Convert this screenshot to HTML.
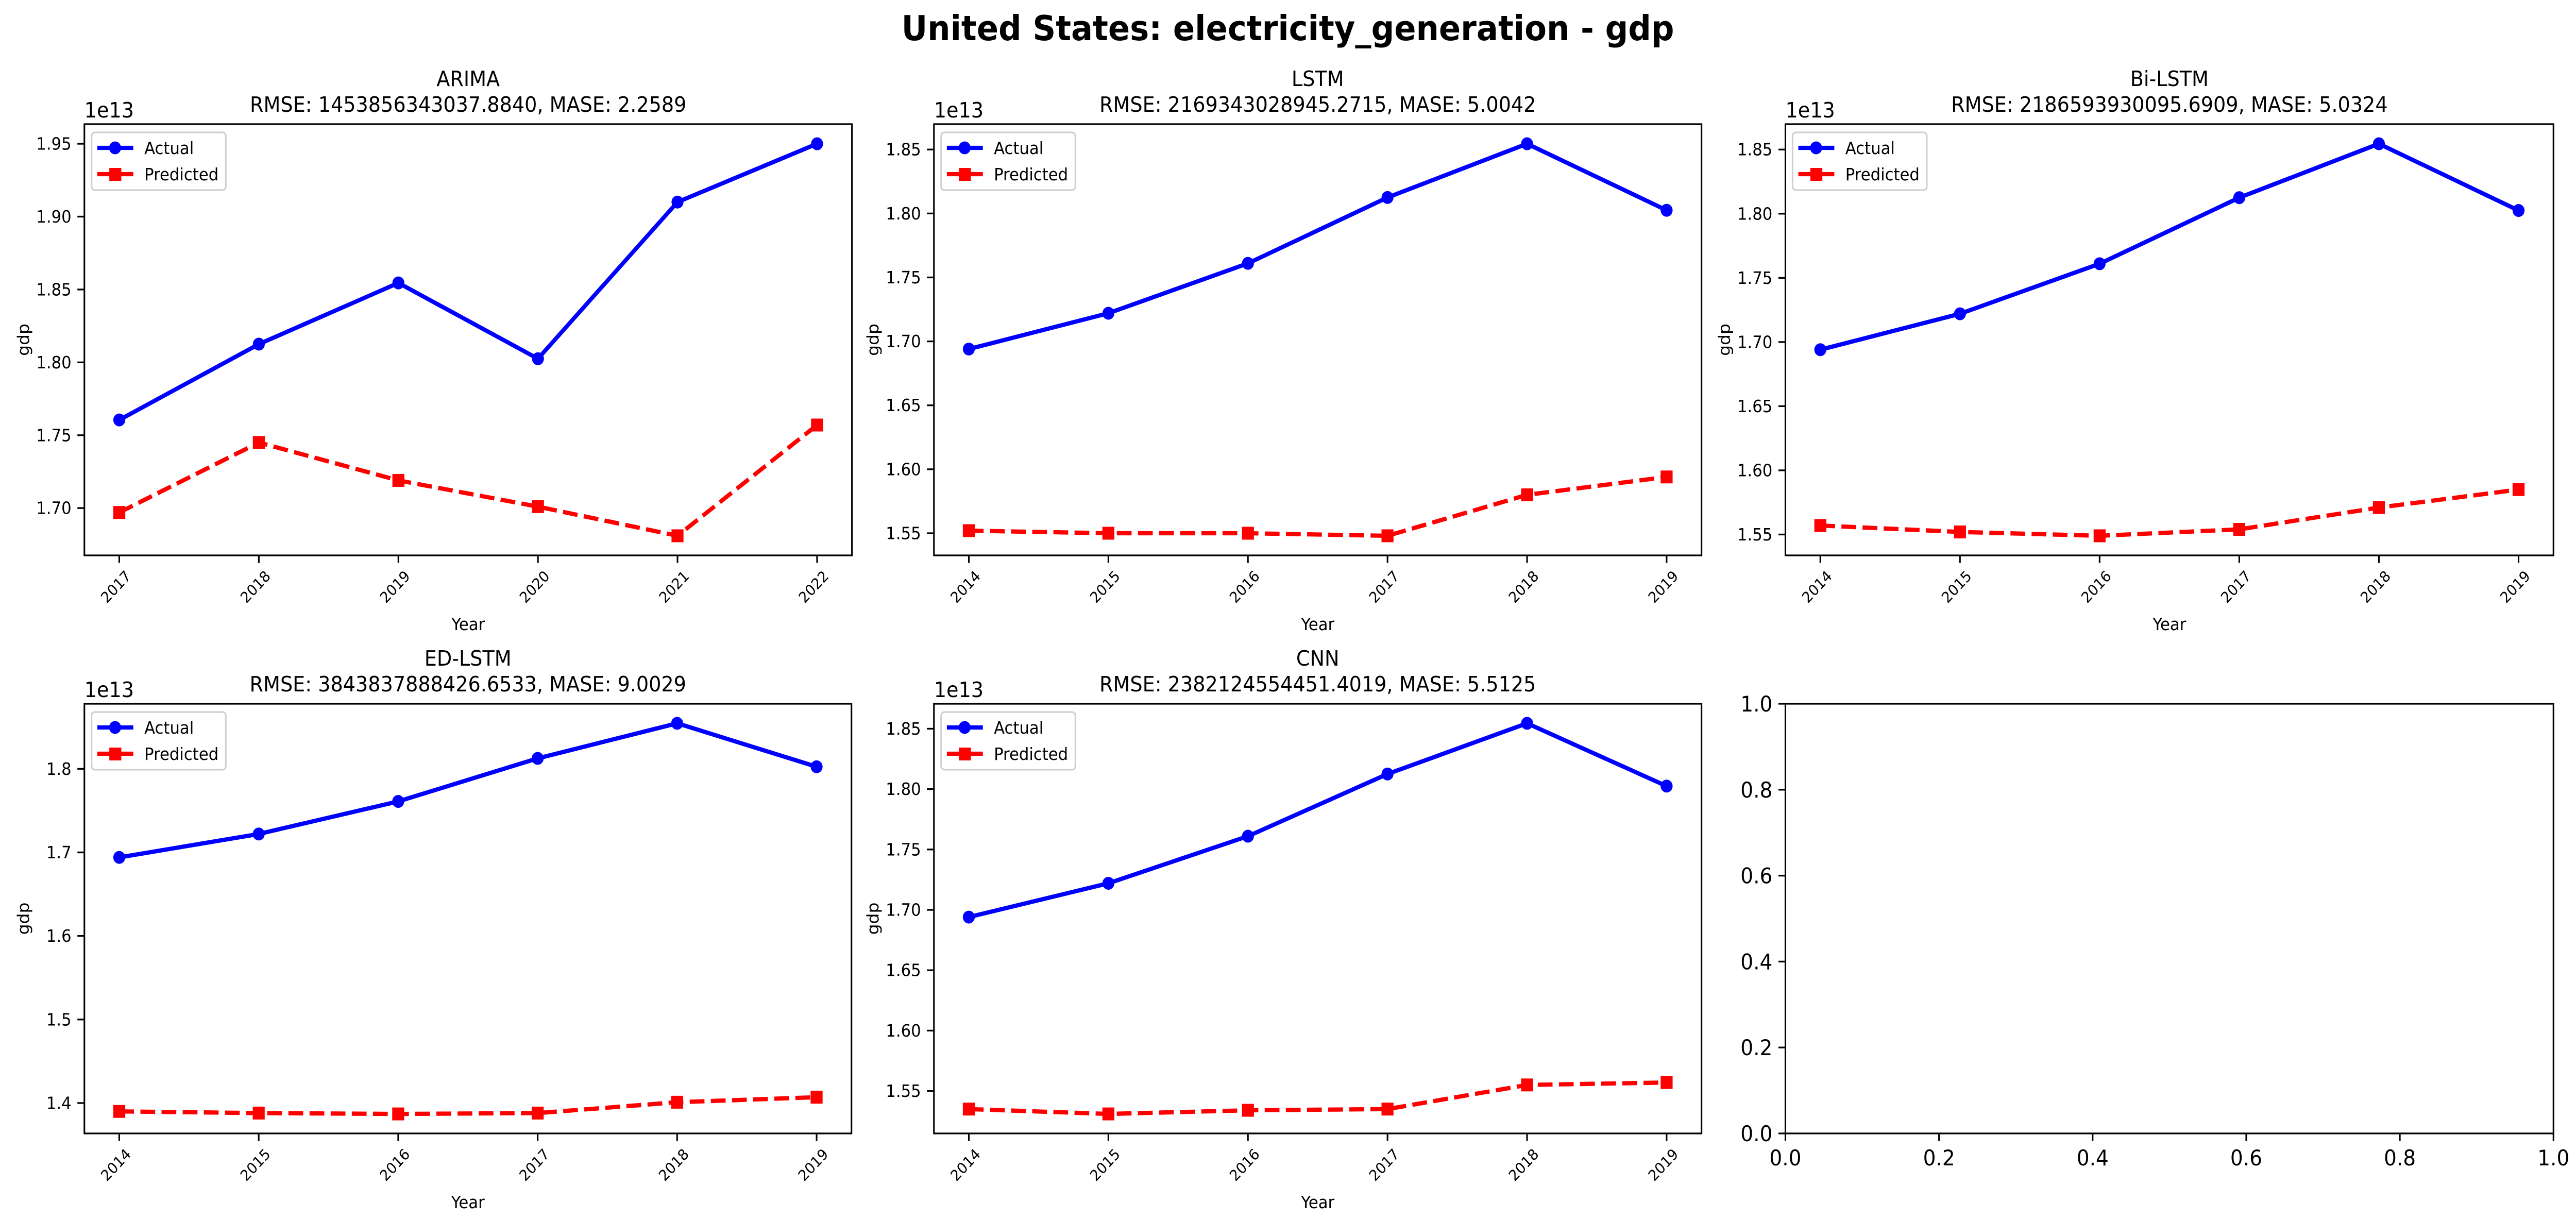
<!DOCTYPE html>
<html><head><meta charset="utf-8"><style>
html,body{margin:0;padding:0;background:#fff;width:100vw;height:100vh;overflow:hidden}
svg{display:block;width:100vw;height:100vh;font-family:"DejaVu Sans","Liberation Sans",sans-serif}
</style></head><body>
<svg id="fig" viewBox="0 0 5373 2368" preserveAspectRatio="none" xmlns="http://www.w3.org/2000/svg">
<rect width="5373" height="2368" fill="#fff"/>
<text x="2686" y="78" font-size="67" font-weight="bold" text-anchor="middle">United States: electricity_generation - gdp</text>
</svg>
<script>
const modelNames = ["ARIMA","LSTM","Bi-LSTM","ED-LSTM","CNN"];
const rmseLabels = ["1453856343037.8840","2169343028945.2715","2186593930095.6909","3843837888426.6533","2382124554451.4019"];
const maseLabels = ["2.2589","5.0042","5.0324","9.0029","5.5125"];
const yearsArima = [2017,2018,2019,2020,2021,2022];
const yearsOther = [2014,2015,2016,2017,2018,2019];
const actualArima = [1.7605,1.8125,1.8545,1.8025,1.9100,1.9500];
const predArima = [1.697,1.745,1.719,1.701,1.681,1.757];
const actualOther = [1.694,1.722,1.761,1.8125,1.8545,1.8025];
const predLstm = [1.552,1.550,1.550,1.548,1.580,1.594];
const predBiLstm = [1.557,1.552,1.549,1.554,1.571,1.585];
const predEdLstm = [1.390,1.388,1.387,1.388,1.401,1.407];
const predCnn = [1.535,1.531,1.534,1.535,1.555,1.557];
const ticksArima = [1.70,1.75,1.80,1.85,1.90,1.95];
const ticks005 = [1.55,1.60,1.65,1.70,1.75,1.80,1.85];
const ticksEd = [1.4,1.5,1.6,1.7,1.8];
const emptyTicks = [0.0,0.2,0.4,0.6,0.8,1.0];

const NS="http://www.w3.org/2000/svg";
const svg=document.getElementById('fig');
function mk(tag,attrs,parent){const e=document.createElementNS(NS,tag);for(const k in attrs)e.setAttribute(k,attrs[k]);(parent||svg).appendChild(e);return e;}

const panels=[
 {name:"arima",years:yearsArima,act:actualArima,pred:predArima,ticks:ticksArima,dec:2,box:[176,241,1777,1078]},
 {name:"lstm",years:yearsOther,act:actualOther,pred:predLstm,ticks:ticks005,dec:2,box:[1948,241,3549,1078]},
 {name:"bi-lstm",years:yearsOther,act:actualOther,pred:predBiLstm,ticks:ticks005,dec:2,box:[3724,241,5326,1078]},
 {name:"ed-lstm",years:yearsOther,act:actualOther,pred:predEdLstm,ticks:ticksEd,dec:1,box:[176,1366,1776,2200]},
 {name:"cnn",years:yearsOther,act:actualOther,pred:predCnn,ticks:ticks005,dec:2,box:[1948,1366,3549,2200]}
];

panels.forEach((p,i)=>{
 const [L,T,R,B]=p.box;
 const g=mk('g',{});
 
 
 const all=p.act.concat(p.pred);
 let mn=Math.min(...all),mx=Math.max(...all),sp=mx-mn;
 const y0=mn-0.05*sp,y1=mx+0.05*sp;
 const x0=p.years[0],x1=p.years[p.years.length-1],xs=x1-x0;
 const xa=v=>L+(v-(x0-0.05*xs))/(xs*1.1)*(R-L);
 const ya=v=>B-(v-y0)/(y1-y0)*(B-T);
 const cx=(L+R)/2;
 const t1=mk('text',{x:cx,y:T-74,'font-size':41,'text-anchor':'middle'},g);t1.textContent=modelNames[i];
 
 
 const t2=mk('text',{x:cx,y:T-24,'font-size':41,'text-anchor':'middle'},g);t2.textContent="RMSE: "+rmseLabels[i]+", MASE: "+maseLabels[i];
 
 
 const off=mk('text',{x:L,y:T-13,'font-size':41},g);off.textContent="1e13";
 
 
 p.ticks.forEach(t=>{const y=ya(t);
  mk('line',{x1:L-14.6,x2:L,y1:y,y2:y,stroke:'#000','stroke-width':3.3},g);
  const tl=mk('text',{x:L-27,y:y+11.5,'font-size':33,'text-anchor':'end'},g);tl.textContent=t.toFixed(p.dec);
  
  
 });
 p.years.forEach(yr=>{const x=xa(yr);
  mk('line',{x1:x,x2:x,y1:B,y2:B+14.6,stroke:'#000','stroke-width':3.3},g);
  const tl=mk('text',{x:0,y:0,'font-size':29,'text-anchor':'middle',transform:`translate(${x},${B+68}) rotate(-45)`},g);tl.textContent=yr;
  
  
 });
 const xl=mk('text',{x:cx,y:B+145,'font-size':33,'text-anchor':'middle'},g);xl.textContent="Year";
 
 
 const yl=mk('text',{x:0,y:0,'font-size':33,'text-anchor':'middle',transform:`translate(${L-116},${(T+B)/2}) rotate(-90)`},g);yl.textContent="gdp";
 
 
 const ptsA=p.years.map((yr,k)=>xa(yr)+','+ya(p.act[k])).join(' ');
 const ptsP=p.years.map((yr,k)=>xa(yr)+','+ya(p.pred[k])).join(' ');
 const la=mk('polyline',{points:ptsA,fill:'none',stroke:'#0000ff','stroke-width':8.3,'stroke-linejoin':'round'},g);
 
 
 p.years.forEach((yr,k)=>{const c=mk('circle',{cx:xa(yr),cy:ya(p.act[k]),r:12.5,fill:'#0000ff'},g);
  
  });
 const lp=mk('polyline',{points:ptsP,fill:'none',stroke:'#ff0000','stroke-width':8.3,'stroke-dasharray':'30.8 13.3'},g);
 
 
 p.years.forEach((yr,k)=>{const s=mk('rect',{x:xa(yr)-12.5,y:ya(p.pred[k])-12.5,width:25,height:25,fill:'#ff0000'},g);
  
  });
 mk('rect',{x:L,y:T,width:R-L,height:B-T,fill:'none',stroke:'#000','stroke-width':3.3},g);
 const lg=mk('g',{},g);
 
 
 mk('rect',{x:L+15,y:T+16,width:280,height:112,rx:7,fill:'#fff',stroke:'#d0d0d0','stroke-width':3.3},lg);
 mk('line',{x1:L+27,x2:L+102,y1:T+46,y2:T+46,stroke:'#0000ff','stroke-width':8.3},lg);
 mk('circle',{cx:L+64,cy:T+46,r:12.5,fill:'#0000ff'},lg);
 const a=mk('text',{x:L+125,y:T+58,'font-size':33},lg);a.textContent="Actual";
 mk('line',{x1:L+27,x2:L+102,y1:T+97,y2:T+97,stroke:'#ff0000','stroke-width':8.3},lg);
 mk('rect',{x:L+52,y:T+85,width:25,height:25,fill:'#ff0000'},lg);
 const b=mk('text',{x:L+125,y:T+109,'font-size':33},lg);b.textContent="Predicted";
});

(function(){
 const L=3724,T=1366,R=5326,B=2200;
 const g=mk('g',{});
 
 
 emptyTicks.forEach(t=>{
  const x=L+t*(R-L),y=B-t*(B-T);
  mk('line',{x1:x,x2:x,y1:B,y2:B+14.6,stroke:'#000','stroke-width':3.3},g);
  const xl=mk('text',{x:x,y:B+62,'font-size':42,'text-anchor':'middle'},g);xl.textContent=t.toFixed(1);
  
  
  mk('line',{x1:L-14.6,x2:L,y1:y,y2:y,stroke:'#000','stroke-width':3.3},g);
  const yl=mk('text',{x:L-27,y:y+15,'font-size':42,'text-anchor':'end'},g);yl.textContent=t.toFixed(1);
  
  
 });
 mk('rect',{x:L,y:T,width:R-L,height:B-T,fill:'none',stroke:'#000','stroke-width':3.3},g);
})();
</script>
</body></html>
